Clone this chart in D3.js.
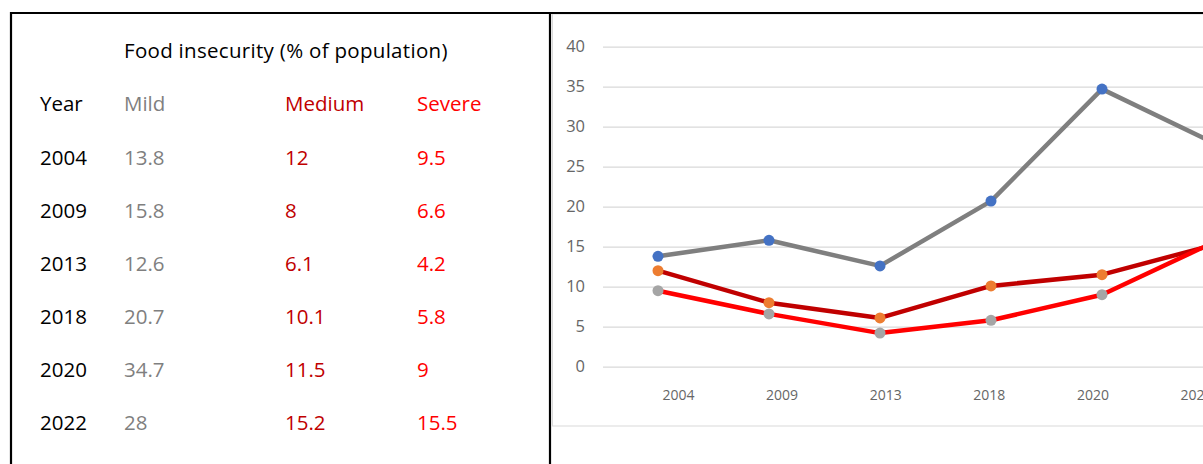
<!DOCTYPE html>
<html>
<head>
<meta charset="utf-8">
<script src="https://cdn.jsdelivr.net/npm/d3@7"></script>
<style>
  body { margin: 0; background: #fff; }
  svg { display: block; }
</style>
</head>
<body>
<svg id="chart"></svg>
<script>
// data
const years = ["2004", "2009", "2013", "2018", "2020", "2022"];
const mild = [13.8, 15.8, 12.6, 20.7, 34.7, 28];
const medium = [12, 8, 6.1, 10.1, 11.5, 15.2];
const severe = [9.5, 6.6, 4.2, 5.8, 9, 15.5];
const seriesNames = ["Mild", "Medium", "Severe"];
const tableTitle = "Food insecurity (% of population)";
const yTicks = [0, 5, 10, 15, 20, 25, 30, 35, 40];

const width = 1203, height = 464;

const svg = d3.select("#chart")
  .attr("width", width)
  .attr("height", height);

svg.append("rect").attr("width", width).attr("height", height).attr("fill", "#fff");

// ---- table (left) ----
const tableFont = "'Open Sans', sans-serif";
const colX = [40, 124, 285, 417];
const colColor = ["#000", "#7f7f7f", "#c00000", "#ff0000"];
const rowY = d3.scalePoint().domain(years).range([164.5, 429.5]);

const table = svg.append("g")
  .style("font-family", tableFont)
  .style("font-size", "20.5px");

table.append("text")
  .attr("x", 124).attr("y", 58)
  .attr("fill", "#000")
  .style("letter-spacing", "0.3px")
  .text(tableTitle);

const header = ["Year"].concat(seriesNames);
table.selectAll("text.head")
  .data(header)
  .enter().append("text")
  .attr("class", "head")
  .attr("x", (d, i) => colX[i])
  .attr("y", 111)
  .attr("fill", (d, i) => colColor[i])
  .text(d => d);

const rows = years.map((y, i) => [y, mild[i], medium[i], severe[i]]);
rows.forEach(r => {
  table.selectAll(null)
    .data(r)
    .enter().append("text")
    .attr("x", (d, i) => colX[i])
    .attr("y", rowY(r[0]))
    .attr("fill", (d, i) => colColor[i])
    .text(d => d);
});

// ---- chart (right) ----
// chart box
svg.append("rect")
  .attr("x", 552.5).attr("y", 14)
  .attr("width", 700).attr("height", 412)
  .attr("fill", "#fff")
  .attr("stroke", "#d9d9d9")
  .attr("stroke-width", 1);

const yScale = d3.scaleLinear().domain([0, 40]).range([366.7, 46.7]);
const xScale = d3.scalePoint().domain(years).range([658, 1213]);
const xLabel = d3.scalePoint().domain(years).range([678, 1196]);

const chartFont = "'Open Sans', 'Segoe UI', sans-serif";

// y grid + labels
const yAxis = svg.append("g")
  .attr("transform", "translate(603,0)")
  .call(d3.axisLeft(yScale)
    .tickValues(yTicks)
    .tickSize(-620)
    .tickPadding(18)
    .tickFormat(d3.format("d")));
yAxis.select(".domain").remove();
yAxis.selectAll(".tick line").attr("stroke", "#d9d9d9").attr("stroke-width", 1.3);
yAxis.selectAll(".tick text")
  .attr("fill", "#666")
  .style("font-family", chartFont)
  .style("font-size", "16.5px");

// x labels
const xAxis = svg.append("g")
  .attr("transform", "translate(0,366.7)")
  .call(d3.axisBottom(xLabel).tickSize(0).tickPadding(23));
xAxis.select(".domain").remove();
xAxis.selectAll(".tick text")
  .attr("fill", "#666")
  .style("font-family", chartFont)
  .style("font-size", "14px");

const series = [
  { values: mild, line: "#7f7f7f", marker: "#4472c4" },
  { values: medium, line: "#c00000", marker: "#ed7d31" },
  { values: severe, line: "#ff0000", marker: "#a5a5a5" }
];

const line = d3.line()
  .x((d, i) => xScale(years[i]))
  .y(d => yScale(d));

series.forEach(s => {
  svg.append("path")
    .datum(s.values)
    .attr("d", line)
    .attr("fill", "none")
    .attr("stroke", s.line)
    .attr("stroke-width", 4.5)
    .attr("stroke-linejoin", "round");
});

series.forEach(s => {
  svg.append("g").selectAll("circle")
    .data(s.values)
    .enter().append("circle")
    .attr("cx", (d, i) => xScale(years[i]))
    .attr("cy", d => yScale(d))
    .attr("r", 5.5)
    .attr("fill", s.marker);
});

// ---- black frame lines ----
const frame = svg.append("g").attr("stroke", "#000").attr("stroke-width", 2.2);
frame.append("line").attr("x1", 10).attr("x2", width).attr("y1", 13).attr("y2", 13);
frame.append("line").attr("x1", 11).attr("x2", 11).attr("y1", 12).attr("y2", height);
frame.append("line").attr("x1", 550).attr("x2", 550).attr("y1", 12).attr("y2", height);
</script>
</body>
</html>
